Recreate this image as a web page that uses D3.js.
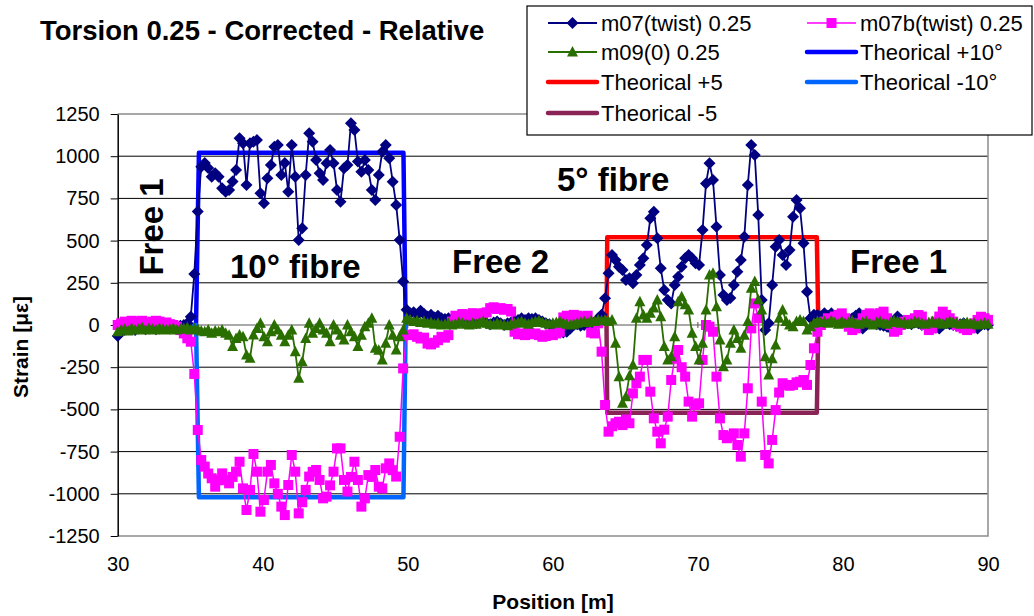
<!DOCTYPE html>
<html>
<head>
<meta charset="utf-8">
<script src="https://cdn.jsdelivr.net/npm/d3@7"></script>
<style>
  body { margin: 0; background: #fff; }
  svg { display: block; font-family: "Liberation Sans", Arial, sans-serif; }
</style>
</head>
<body>
<div id="chart"></div>
<script>
const width = 1034;
const height = 616;

// sampling positions along the fibre [m], one reading every 0.24 m
const positions = d3.range(251).map(i => 30 + i * 0.24);

const m07 = [
  -65, -40, -30, -25, -20, -30, -20, -15, -25, -20, -15, -25, -20, -10, -15, -20, -10, -15, -5, 0, 10,
  49, 302, 673, 938, 960, 930, 878, 899, 878, 810, 790, 800, 850, 918, 1106, 1076, 829, 1076, 1086, 1096,
  780, 721, 869, 948, 1056, 1066, 889, 960, 790, 1066, 878, 503, 573, 889, 1136, 1086, 977, 899, 859, 958,
  1037, 958, 800, 730, 928, 948, 1195, 1155, 968, 908, 977, 918, 800, 740, 889, 1027, 1066, 988, 849, 711, 504, 257,
  90, 70, 75, 60, 85, 65, 50, 60, 45, 55, 40, 35, 40, 30, 25, 30, 20, 25, 15, 20, 10, 15, 20, 10, 5, 15, 20, 10,
  0, 10, 15, 25, 30, 40, 30, 40, 35, 40, 30, 20, 10, 5, -5, -15, -30, -45, -40, -20, 0, 5, -5, 0, 10, 5, 15, 40,
  60, 158, 306, 415, 385, 345, 326, 267, 277, 247, 296, 355, 395, 474, 632, 671, 514, 336, 207, 148, 128, 237,
  286, 345, 395, 415, 395, 366, 355, 563, 839, 958,
  859, 582, 296, 178, 148, 160, 237, 316, 385, 523, 829, 1066, 1007, 652, 148, -30, 10, 237, 464, 504, 415, 355,
  444, 642, 741, 691, 484, 197, 40, 60, 59,
  50, 69, 55, 69, 40, 30, 20, 35, 25, 40, 55, 69, -20, 0, 10, 15, 5, 0, -5, -10, -20, 20, 50, 30, 20, 10, 5, 15,
  10, 0, 5, -5, -10, -15, -20, 0, 10, 5, 0, -5, 5, 10, 0, -10, -15, -20, 0, 5, 0
];

const m07b = [
  0, 10, 20, 15, 25, 10, 20, 25, 15, 10, 20, 25, 20, 10, 15, 5, 0, -10, -30, -50, -79,
  -99, -290, -622, -800, -839, -880, -908, -958, -920, -879, -918, -938, -900, -869, -810, -968, -1096, -977,
  -764, -869, -1106, -1037, -869, -829, -938, -1000, -1076, -1126, -948, -770, -869, -1116, -1050, -977, -898,
  -870, -859, -918, -1027, -1017, -950, -869, -731, -731, -918, -987, -900, -810, -918, -1076, -1027, -889,
  -900, -859, -958, -968, -849, -820, -860, -898, -662, -257,
  -60, -59, -55, -70, -80, -75, -110, -115, -105, -90, -70, -75, -60, 20, 55, 50, 65, 60, 55, 70, 65, 60, 70,
  75, 100, 105, 95, 100, 90, 95, 80, -40, -55, -50, -60, -45, -55, -50, -60, -70, -65, -55, -60, -50, -40, 45,
  55, 50, 60, 55, 50, 45, 55, -45, -50, 10,
  -158, -474, -632, -600, -582, -573, -593, -560, -582, -405, -345, -306, -207, -207, -395, -553, -632, -701,
  -620, -543, -326, -200, -148, -250, -306, -454, -543, -474, -464, -207, 0, -10, -40, -306, -553, -652, -671,
  -660, -642, -711, -780, -642, -375, -20, 128, 40, -454, -770, -820, -681, -504, -400, -345, -355, -360, -355,
  -340, -336, -326, -355, -237, -138, -40,
  0, 20, 40, 30, 50, 60, 69, 40, -10, -30, -20, 10, 40, 60, 69, 50, 60, 70, 79, 40, 0, -40, -30, 0, 20, 30, 20,
  40, 59, 50, 0, -30, -20, 20, 50, 79, 60, 40, 20, 0, -10, -20, -30, -20, 10, 30, 49, 40, 30
];

const m09 = [
  -40, -30, -25, -35, -20, -30, -25, -15, -30, -20, -25, -30, -20, -25, -30, -25, -20, -30, -25, -20, -15,
  -30, -20, -25, -35, -40, -30, -49, -35, -40, -30, -49, -60, -128, -80, -59, -70, -178, -197, -59, -20, 10,
  -69, -99, -40, 0, -30, -60, -99, -60, -30, -158, -316, -217, -80, 10, -49, -20, 10, -30, -49, -99, 0, -30,
  -60, -89, 0, -40, -70, -128, -60, -10, 10, 40, -138, -150, -207, -108, 0, -60, -148, -70, -30, 40,
  30, 20, 25, 15, 20, 10, 15, 5, 10, 0, 5, 10, 0, 5, 15, 10, 5, 0, 10, 5, 15, 20, 10, 5, 0, 10, 5, 0, -5, 5, 10,
  15, 20, 10, 5, 15, 20, 25, 15, 10, 5, 10, 15, 20, 10, 5, 0, 5, 10, 15, 20, 15, 25, 20, 30,
  25, 30, 20, 30, -108, -306, -464, -425, -300, -237, 40, 138, 59, 40, 69, 100, 148, 49, -128, -207, -188, -69,
  138, 168, 120, 89, -49, -128, -207, -108, 89, 296, 306, 108, -89, -247, -207, -108, -30, -80, -138, -60, 20,
  217, 257, 150, 89, -188, -296, -200, -118, 40, 89, 20, 0, -10, 20, 30, 20, -30, -10, 10, 20,
  15, 20, 10, 25, 15, 5, 20, 10, 15, 25, 10, 5, 15, 20, 10, 0, 15, 20, 10, 5, 15, 25, 20, 10, 15, 5, 10, 20, 15,
  10, 5, 15, 20, 10, 15, 5, 10, 20, 15, 10, 5, 10, 15, 5, 10, 0, 5, 10, 5
];

// theoretical strain steps
const th10Pos = [30, 35.4, 35.6, 49.7, 49.85];
const th10Val = [0, 0, 1020, 1020, 0];
const thm10Val = [0, 0, -1020, -1020, 0];
const th5Pos = [63.7, 63.75, 78.2, 78.3];
const th5Val = [0, 520, 520, 0];
const thm5Val = [0, -520, -520, 0];

const yTicks = [-1250, -1000, -750, -500, -250, 0, 250, 500, 750, 1000, 1250];
const xTicks = [30, 40, 50, 60, 70, 80, 90];

const svg = d3.select("#chart").append("svg")
              .attr("width", width)
              .attr("height", height)

const x = d3.scaleLinear().domain([30, 90]).range([117.7, 988])
const y = d3.scaleLinear().domain([-1250, 1250]).range([536, 114])

// gridlines
svg.append("g")
   .selectAll("line")
   .data(yTicks.filter(v => v !== 0 && Math.abs(v) !== 1250))
   .join("line")
   .attr("x1", x(30)).attr("x2", x(90))
   .attr("y1", d => y(d)).attr("y2", d => y(d))
   .attr("stroke", "#000")
   .attr("stroke-width", 1)

// plot frame (gray)
svg.append("path")
   .attr("d", `M${x(30)},${y(1250)}H${x(90)}V${y(-1250)}H${x(30)}`)
   .attr("fill", "none")
   .attr("stroke", "#8c8c8c")
   .attr("stroke-width", 1.5)

// zero axis line
svg.append("line")
   .attr("x1", x(30)).attr("x2", x(90))
   .attr("y1", y(0)).attr("y2", y(0))
   .attr("stroke", "#8c8c8c")
   .attr("stroke-width", 1.5)

svg.append("g")
   .selectAll("line")
   .data(xTicks)
   .join("line")
   .attr("x1", d => x(d)).attr("x2", d => x(d))
   .attr("y1", y(0) - 3).attr("y2", y(0) + 3)
   .attr("stroke", "#555")

// y axis
const gy = svg.append("g")
              .attr("transform", `translate(${x(30)},0)`)
              .call(d3.axisLeft(y).tickValues(yTicks).tickFormat(d => String(d))
                      .tickSize(7).tickPadding(11).tickSizeOuter(0))
gy.select(".domain").attr("stroke", "#000").attr("stroke-width", 1.5)
gy.selectAll(".tick line").attr("stroke", "#000")
gy.selectAll("text").style("font-size", "20px").attr("fill", "#000").style("font-family", "Liberation Sans, Arial, sans-serif")

// x axis labels
const gx = svg.append("g")
              .attr("transform", `translate(0,${y(-1250)})`)
              .call(d3.axisBottom(x).tickValues(xTicks).tickFormat(d => String(d)).tickSize(0).tickPadding(21))
gx.select(".domain").remove()
gx.selectAll("text").style("font-size", "20px").attr("fill", "#000").style("font-family", "Liberation Sans, Arial, sans-serif")

// theoretical lines (drawn beneath the measurements)
const thLine = d3.line().x(d => x(d[0])).y(d => y(d[1]))
const theoretical = [
  { pos: th10Pos, val: th10Val, color: "#0000ff" },
  { pos: th10Pos, val: thm10Val, color: "#0066ff" },
  { pos: th5Pos, val: th5Val, color: "#ff0000" },
  { pos: th5Pos, val: thm5Val, color: "#8a2456" }
]
theoretical.forEach(t => {
  svg.append("path")
     .datum(t.pos.map((p, i) => [p, t.val[i]]))
     .attr("d", thLine)
     .attr("fill", "none")
     .attr("stroke", t.color)
     .attr("stroke-width", 4.5)
     .attr("stroke-linejoin", "round")
     .attr("stroke-linecap", "round")
})

const diamond = "M0,-6L6,0L0,6L-6,0Z"
const square = "M-5,-5H5V5H-5Z"
const triangle = "M0,-6L5.5,4.5L-5.5,4.5Z"

const measured = [
  { name: "m07(twist) 0.25", values: m07, color: "#000080", marker: diamond, width: 1.8 },
  { name: "m07b(twist) 0.25", values: m07b, color: "#ff00ff", marker: square, width: 1.5 },
  { name: "m09(0) 0.25", values: m09, color: "#2a6e00", marker: triangle, width: 1.8 }
]

measured.forEach(s => {
  const pts = positions.map((p, i) => [p, s.values[i]]).filter(d => d[1] !== undefined)
  svg.append("path")
     .datum(pts)
     .attr("d", thLine)
     .attr("fill", "none")
     .attr("stroke", s.color)
     .attr("stroke-width", s.width)
  svg.append("g")
     .selectAll("path")
     .data(pts)
     .join("path")
     .attr("transform", d => `translate(${x(d[0])},${y(d[1])})`)
     .attr("d", s.marker)
     .attr("fill", s.color)
})

// annotations
const notes = svg.append("g").style("font-weight", "bold").style("font-size", "33px").attr("fill", "#000")
notes.append("text").attr("transform", "translate(163,227) rotate(-90)").attr("text-anchor", "middle").text("Free 1")
notes.append("text").attr("x", 230).attr("y", 278).text("10° fibre")
notes.append("text").attr("x", 452).attr("y", 273).text("Free 2")
notes.append("text").attr("x", 557).attr("y", 191).text("5° fibre")
notes.append("text").attr("x", 850).attr("y", 273).text("Free 1")

// title and axis titles
svg.append("text")
   .attr("x", 40).attr("y", 40)
   .style("font-size", "27.5px").style("font-weight", "bold")
   .text("Torsion 0.25 - Corrected - Relative")

svg.append("text")
   .attr("x", 553).attr("y", 609)
   .attr("text-anchor", "middle")
   .style("font-size", "21px").style("font-weight", "bold")
   .text("Position [m]")

svg.append("text")
   .attr("transform", "translate(28,347) rotate(-90)")
   .attr("text-anchor", "middle")
   .style("font-size", "21px").style("font-weight", "bold")
   .text("Strain [με]")

// legend
const legend = svg.append("g")
legend.append("rect")
      .attr("x", 527).attr("y", 6)
      .attr("width", 505).attr("height", 129)
      .attr("fill", "#fff")
      .attr("stroke", "#000")
      .attr("stroke-width", 1.2)

const legendItems = [
  { name: "m07(twist) 0.25", color: "#000080", marker: diamond, col: 0, row: 0, width: 1.8 },
  { name: "m07b(twist) 0.25", color: "#ff00ff", marker: square, col: 1, row: 0, width: 1.5 },
  { name: "m09(0) 0.25", color: "#2a6e00", marker: triangle, col: 0, row: 1, width: 1.8 },
  { name: "Theorical +10°", color: "#0000ff", marker: null, col: 1, row: 1, width: 4.5 },
  { name: "Theorical +5", color: "#ff0000", marker: null, col: 0, row: 2, width: 4.5 },
  { name: "Theorical -10°", color: "#0066ff", marker: null, col: 1, row: 2, width: 4.5 },
  { name: "Theorical -5", color: "#8a2456", marker: null, col: 0, row: 3, width: 4.5 }
]
const colX = [548, 807]
const rowY = [23, 52, 82, 113]

legendItems.forEach(d => {
  const lx = colX[d.col], ly = rowY[d.row]
  legend.append("line")
        .attr("x1", lx).attr("x2", lx + 49)
        .attr("y1", ly).attr("y2", ly)
        .attr("stroke", d.color)
        .attr("stroke-width", d.width)
        .attr("stroke-linecap", d.marker ? "butt" : "round")
  if (d.marker) {
    legend.append("path")
          .attr("transform", `translate(${lx + 24.5},${ly})`)
          .attr("d", d.marker)
          .attr("fill", d.color)
  }
  legend.append("text")
        .attr("x", lx + 53).attr("y", ly + 7.5)
        .style("font-size", "22px")
        .text(d.name)
})
</script>
</body>
</html>
